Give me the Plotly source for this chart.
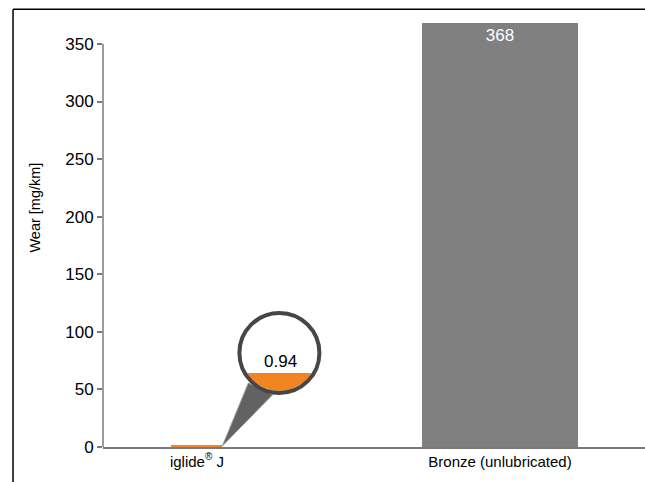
import math
import plotly.graph_objects as go

# ---- data ----
categories = ["iglide<sup><span style='font-size:10px'>®</span></sup> J", "Bronze (unlubricated)"]
wear_values = [0.94, 368]
bar_colors = ["#F08322", "#808080"]
bar_widths = [0.168, 0.515]
bar_text = ["", "368"]
y_ticks = [0, 50, 100, 150, 200, 250, 300, 350]
callout_text = "0.94"
y_title = "Wear [mg/km]"

FONT = "Helvetica Neue, Arial, Liberation Sans, sans-serif"

x_pos = list(range(len(categories)))

fig = go.Figure()
fig.add_trace(go.Bar(
    x=x_pos, y=wear_values, width=bar_widths,
    marker=dict(color=bar_colors, line=dict(width=0)),
    text=bar_text, textposition="inside", insidetextanchor="end",
    textfont=dict(color="white", size=17, family=FONT),
    textangle=0, cliponaxis=False, hoverinfo="skip",
))

# callout anchored at top-right corner of the iglide bar
ax_x = x_pos[0] + bar_widths[0] / 2
ax_y = wear_values[0]
cx, cy = 57, 93      # circle centre (pixels, relative to anchor, y up)
r_ring = 40
r_in = 38
seg_top = cy - 20

shapes = []
# pointer triangle
p1 = (cx - 31, cy - 30)
p2 = (cx - 7, cy - 42)
shapes.append(dict(
    type="path", xref="x", yref="y", xsizemode="pixel", ysizemode="pixel",
    xanchor=ax_x, yanchor=ax_y,
    path=f"M 0,0 L {p1[0]},{p1[1]} L {p2[0]},{p2[1]} Z",
    fillcolor="#626262", line=dict(color="#9a9a9a", width=1), layer="above",
))
# white circle
shapes.append(dict(
    type="circle", xref="x", yref="y", xsizemode="pixel", ysizemode="pixel",
    xanchor=ax_x, yanchor=ax_y,
    x0=cx - r_ring, x1=cx + r_ring, y0=cy - r_ring, y1=cy + r_ring,
    fillcolor="white", line=dict(width=0), layer="above",
))
# orange segment inside circle
dy = seg_top - cy
half = math.sqrt(r_in ** 2 - dy ** 2)
a0 = math.atan2(dy, half)
a1 = math.atan2(dy, -half)
pts = []
n = 40
start = a0
end = a1 - 2 * math.pi if a1 > a0 else a1
for i in range(n + 1):
    a = start + (end - start) * i / n
    pts.append((cx + r_in * math.cos(a), cy + r_in * math.sin(a)))
path = "M " + " L ".join(f"{px:.2f},{py:.2f}" for px, py in pts) + " Z"
shapes.append(dict(
    type="path", xref="x", yref="y", xsizemode="pixel", ysizemode="pixel",
    xanchor=ax_x, yanchor=ax_y, path=path,
    fillcolor="#F28422", line=dict(width=0), layer="above",
))
# ring
shapes.append(dict(
    type="circle", xref="x", yref="y", xsizemode="pixel", ysizemode="pixel",
    xanchor=ax_x, yanchor=ax_y,
    x0=cx - r_ring, x1=cx + r_ring, y0=cy - r_ring, y1=cy + r_ring,
    fillcolor="rgba(0,0,0,0)", line=dict(color="#464646", width=4), layer="above",
))
# y axis line from 0 to 350
shapes.append(dict(
    type="line", xref="paper", yref="y", x0=0, x1=0, y0=y_ticks[0], y1=y_ticks[-1],
    line=dict(color="#7a7a7a", width=1.5), layer="above",
))
# outer frame (left and top)
fx, fy = -0.166, 1.025
shapes.append(dict(type="line", xref="paper", yref="paper", x0=fx, x1=fx, y0=fy, y1=-0.2,
                   line=dict(color="black", width=1.5)))
shapes.append(dict(type="line", xref="paper", yref="paper", x0=fx, x1=1.2, y0=fy, y1=fy,
                   line=dict(color="black", width=1.5)))

fig.update_layout(
    width=645, height=482,
    margin=dict(l=103, r=0, t=20, b=35),
    paper_bgcolor="white", plot_bgcolor="white",
    showlegend=False, bargap=0,
    font=dict(family=FONT, color="black"),
    shapes=shapes,
    annotations=[
        dict(
            x=ax_x, y=ax_y, xref="x", yref="y", text=callout_text, showarrow=False,
            xanchor="center", yanchor="middle", xshift=cx + 1, yshift=cy - 9,
            font=dict(size=17, color="black", family=FONT),
        ),
        dict(
            x=-0.126, y=0.56, xref="paper", yref="paper", text=y_title, showarrow=False,
            textangle=-90, xanchor="center", yanchor="middle",
            font=dict(size=14.5, color="black", family=FONT),
        ),
    ],
    xaxis=dict(
        tickmode="array", tickvals=x_pos, ticktext=categories,
        range=[-0.31, 1.4785], showgrid=False, zeroline=False,
        showline=True, linecolor="#7a7a7a", linewidth=1.5,
        ticks="", tickfont=dict(size=15, color="black", family=FONT),
    ),
    yaxis=dict(
        range=[0, 370.8], tickvals=y_ticks, showgrid=False, zeroline=False,
        showline=False, ticks="outside", ticklen=5, tickcolor="#7a7a7a", tickwidth=1.5,
        tickfont=dict(size=17, color="black", family=FONT),
    ),
)

fig.write_html("out.html")
